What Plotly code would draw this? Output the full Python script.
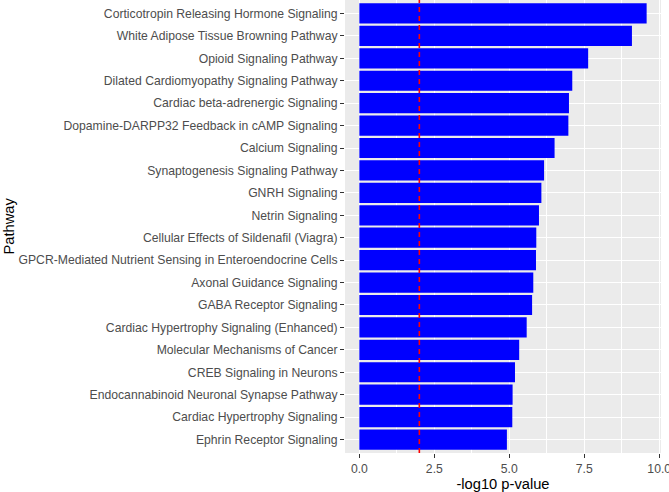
import plotly.graph_objects as go

pathways = [
    "Corticotropin Releasing Hormone Signaling",
    "White Adipose Tissue Browning Pathway",
    "Opioid Signaling Pathway",
    "Dilated Cardiomyopathy Signaling Pathway",
    "Cardiac beta-adrenergic Signaling",
    "Dopamine-DARPP32 Feedback in cAMP Signaling",
    "Calcium Signaling",
    "Synaptogenesis Signaling Pathway",
    "GNRH Signaling",
    "Netrin Signaling",
    "Cellular Effects of Sildenafil (Viagra)",
    "GPCR-Mediated Nutrient Sensing in Enteroendocrine Cells",
    "Axonal Guidance Signaling",
    "GABA Receptor Signaling",
    "Cardiac Hypertrophy Signaling (Enhanced)",
    "Molecular Mechanisms of Cancer",
    "CREB Signaling in Neurons",
    "Endocannabinoid Neuronal Synapse Pathway",
    "Cardiac Hypertrophy Signaling",
    "Ephrin Receptor Signaling",
]
neg_log10_p = [9.58, 9.09, 7.63, 7.10, 6.99, 6.97, 6.51, 6.16, 6.07, 5.99,
               5.90, 5.89, 5.80, 5.76, 5.58, 5.33, 5.19, 5.11, 5.10, 4.92]
threshold = 2.0
x_ticks = [0, 2.5, 5, 7.5, 10]
x_tick_labels = ["0.0", "2.5", "5.0", "7.5", "10.0"]

font_family = "Liberation Sans, Arial, sans-serif"

fig = go.Figure()
fig.add_trace(go.Bar(
    x=neg_log10_p, y=pathways, orientation="h",
    marker=dict(color="#0000FF", line=dict(width=0)),
    width=0.9, showlegend=False, hoverinfo="x+y",
))
fig.add_shape(type="line", xref="x", yref="paper",
              x0=threshold, x1=threshold, y0=0, y1=1,
              line=dict(color="#FF0000", width=1.6, dash="5px,4px"), layer="above")

xmax = max(neg_log10_p)
pad = 0.05 * xmax
L, R, T, B = 345, 8, 0, 39
pw = 669 - L - R
fig.update_layout(
    width=669, height=492,
    margin=dict(l=L, r=R, t=T, b=B, autoexpand=False),
    paper_bgcolor="white", plot_bgcolor="#EBEBEB",
    font=dict(family=font_family),
    bargap=0.1,
    xaxis=dict(
        range=[-pad, xmax + pad],
        tickvals=x_ticks, ticktext=x_tick_labels,
        showgrid=True, gridcolor="white", gridwidth=1.1,
        minor=dict(dtick=1.25, tick0=0, showgrid=True, gridcolor="white", gridwidth=0.5, ticklen=0),
        zeroline=False, showline=False,
        ticks="outside", ticklen=4, tickcolor="#333333", tickwidth=1,
        tickfont=dict(size=12.2, color="#4D4D4D"),
        ticklabeloverflow="allow",
        automargin=False,
        title=dict(text="-log10 p-value", font=dict(size=14.7, color="black"), standoff=2),
    ),
    yaxis=dict(
        categoryorder="array", categoryarray=pathways,
        range=[len(pathways) - 0.4, -0.6],
        showgrid=True, gridcolor="white", gridwidth=1.1,
        zeroline=False, showline=False,
        ticks="outside", ticklen=4, tickcolor="#333333", tickwidth=1,
        tickfont=dict(size=12.2, color="#4D4D4D"),
        automargin=False,
    ),
    annotations=[dict(
        text="Pathway", textangle=-90, xref="paper", yref="paper",
        x=-(L - 8) / pw, y=0.5, xanchor="center", yanchor="middle",
        showarrow=False, font=dict(size=14.7, color="black"),
    )],
)

fig.write_html("out.html", config={"displayModeBar": False},
               post_script="document.body.style.margin='0';document.body.style.padding='0';")
